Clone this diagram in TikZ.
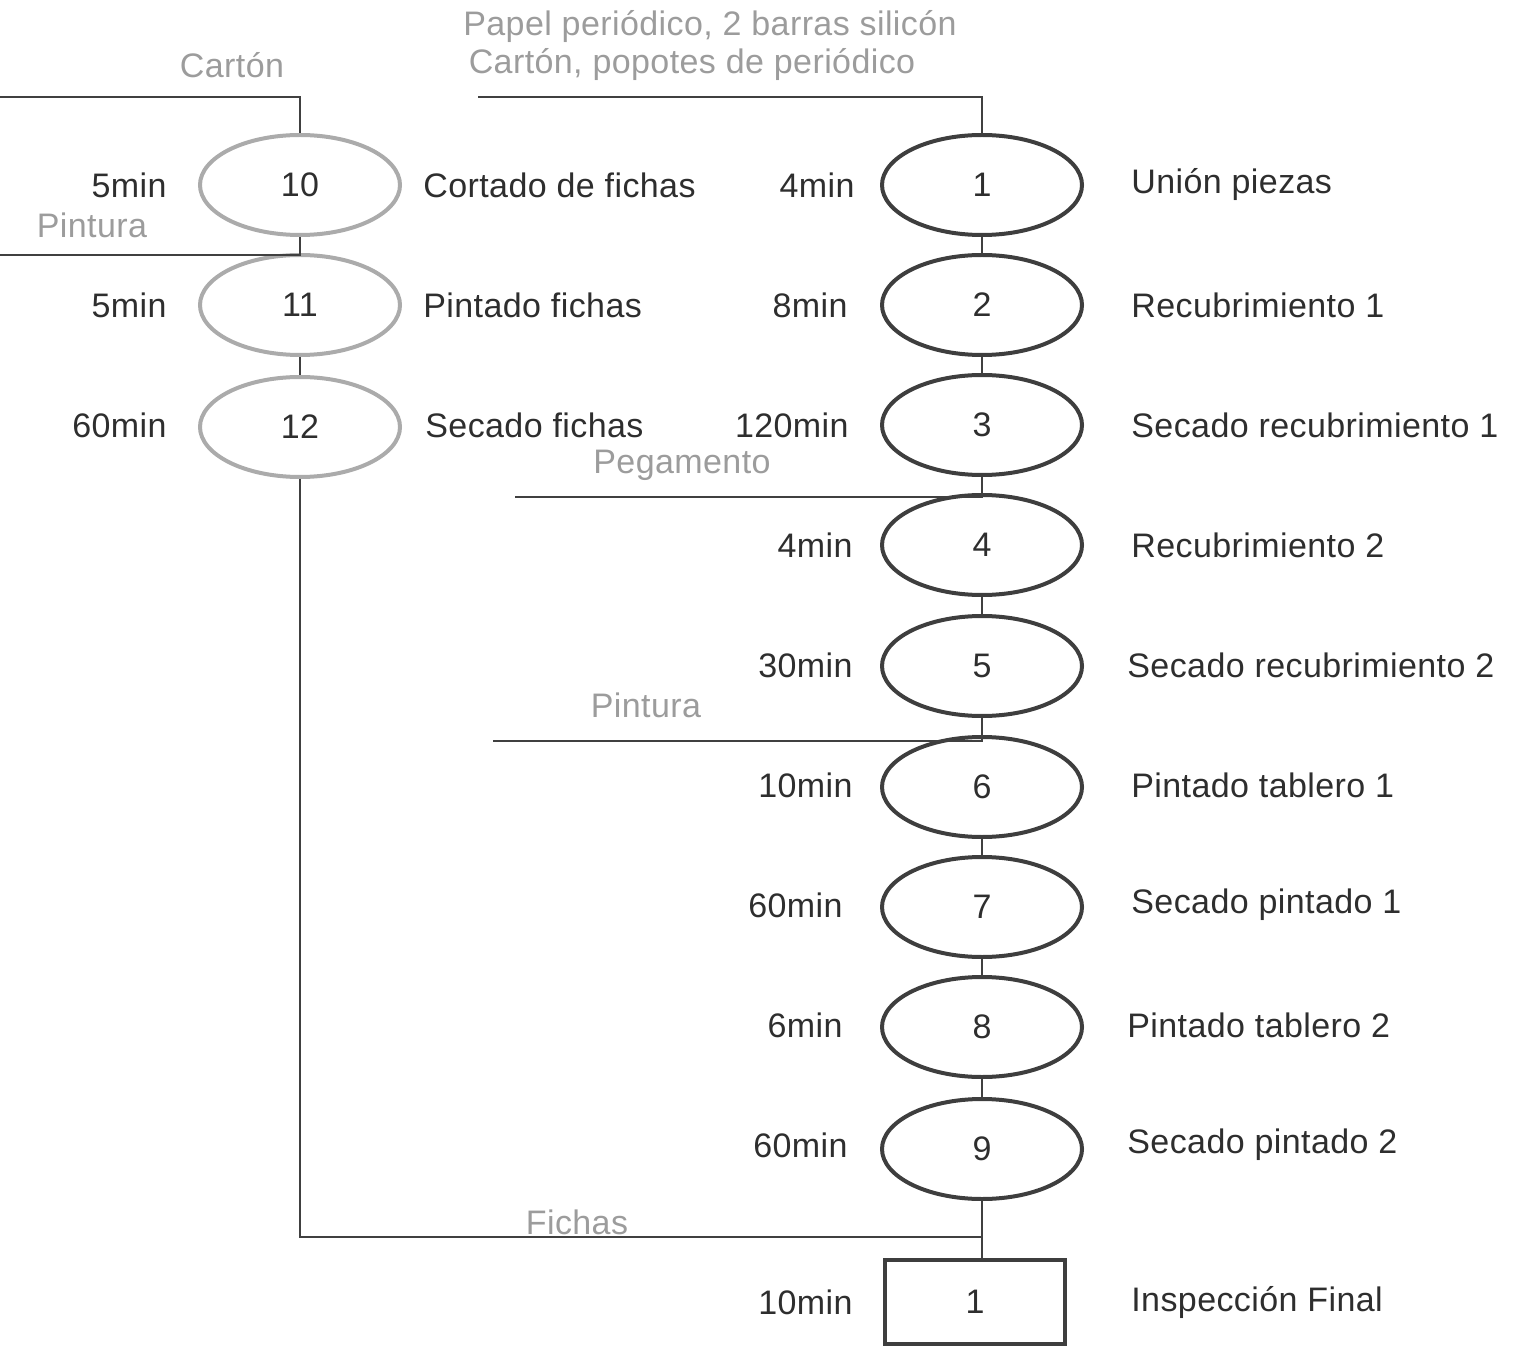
\documentclass[tikz,border=0pt]{standalone}
\usepackage{fontspec}
\setmainfont[LetterSpace=1.2]{Liberation Sans}
\usetikzlibrary{shapes.geometric}
\definecolor{txt}{HTML}{2E2E2E}
\definecolor{mat}{HTML}{9C9C9C}
\definecolor{lightell}{HTML}{ABABAB}
\definecolor{darkell}{HTML}{3E3E3E}
\definecolor{ln}{HTML}{404040}
\begin{document}
\begin{tikzpicture}[x=0.5pt,y=-0.5pt,
  every node/.style={font=\fontsize{17}{20}\selectfont, text=txt, inner sep=0pt},
  opA/.style={ellipse, draw=lightell, line width=2pt, minimum width=100pt, minimum height=50pt},
  opB/.style={ellipse, draw=darkell, line width=2pt, minimum width=100pt, minimum height=50pt},
  insp/.style={rectangle, draw=darkell, line width=2pt, minimum width=90pt, minimum height=42pt},
  tlabel/.style={anchor=east},
  dlabel/.style={anchor=west},
  mlabel/.style={text=mat},
  conn/.style={draw=ln, line width=1pt}]
\useasboundingbox (0,0) rectangle (1514,1347);

% left column
\node[opA] (e10) at (300,185) {10};
\node[opA] (e11) at (300,305) {11};
\node[opA] (e12) at (300,427) {12};
\node[tlabel] (t10) at (167,185) {5min};
\node[tlabel] (t11) at (167,305) {5min};
\node[tlabel] (t12) at (167,425) {60min};
\node[dlabel] (d10) at (423,185) {Cortado de fichas};
\node[dlabel] (d11) at (423,305) {Pintado fichas};
\node[dlabel] (d12) at (425,425) {Secado fichas};

% right column
\node[opB] (e1) at (982,185) {1};
\node[opB] (e2) at (982,305) {2};
\node[opB] (e3) at (982,425) {3};
\node[opB] (e4) at (982,545) {4};
\node[opB] (e5) at (982,666) {5};
\node[opB] (e6) at (982,787) {6};
\node[opB] (e7) at (982,907) {7};
\node[opB] (e8) at (982,1027) {8};
\node[opB] (e9) at (982,1149) {9};
\node[insp] (b1) at (975,1302) {1};

\node[tlabel] (t1) at (855,185) {4min};
\node[tlabel] (t2) at (848,305) {8min};
\node[tlabel] (t3) at (849,425) {120min};
\node[tlabel] (t4) at (853,545) {4min};
\node[tlabel] (t5) at (853,665) {30min};
\node[tlabel] (t6) at (853,785) {10min};
\node[tlabel] (t7) at (843,905) {60min};
\node[tlabel] (t8) at (843,1025) {6min};
\node[tlabel] (t9) at (848,1145) {60min};
\node[tlabel] (tb) at (853,1302) {10min};

\node[dlabel] (d1) at (1131,185) {Unión piezas};
\node[dlabel] (d2) at (1131,305) {Recubrimiento 1};
\node[dlabel] (d3) at (1131,425) {Secado recubrimiento 1};
\node[dlabel] (d4) at (1131,545) {Recubrimiento 2};
\node[dlabel] (d5) at (1127,665) {Secado recubrimiento 2};
\node[dlabel] (d6) at (1131,785) {Pintado tablero 1};
\node[dlabel] (d7) at (1131,905) {Secado pintado 1};
\node[dlabel] (d8) at (1127,1025) {Pintado tablero 2};
\node[dlabel] (d9) at (1127,1145) {Secado pintado 2};
\node[dlabel] (db) at (1131,1302) {Inspección Final};

% material labels
\node[mlabel] (m1) at (232,65) {Cartón};
\node[mlabel] (m2) at (92,225) {Pintura};
\node[mlabel] (m3) at (710,27) {Papel periódico, 2 barras silicón};
\node[mlabel] (m4) at (692,65) {Cartón, popotes de periódico};
\node[mlabel] (m5) at (682,465) {Pegamento};
\node[mlabel] (m6) at (646,705) {Pintura};
\node[mlabel] (m7) at (577,1222) {Fichas};

% connector start points
\coordinate (c1) at (0,97);
\coordinate (c2) at (0,255);
\coordinate (c3) at (478,97);
\coordinate (c4) at (515,497);
\coordinate (c5) at (493,741);
\coordinate (jn) at (982,1237);

% connectors
\draw[conn] (c1) -| (e10.north);
\draw[conn] (c2) -| (e11.north);
\draw[conn] (e10.south) -- (e11.north);
\draw[conn] (e11.south) -- (e12.north);
\draw[conn] (e12.south) |- (jn);
\draw[conn] (c3) -| (e1.north);
\draw[conn] (c4) -| (e4.north);
\draw[conn] (c5) -| (e6.north);
\draw[conn] (e1.south) -- (e2.north);
\draw[conn] (e2.south) -- (e3.north);
\draw[conn] (e3.south) -- (e4.north);
\draw[conn] (e4.south) -- (e5.north);
\draw[conn] (e5.south) -- (e6.north);
\draw[conn] (e6.south) -- (e7.north);
\draw[conn] (e7.south) -- (e8.north);
\draw[conn] (e8.south) -- (e9.north);
\draw[conn] (e9.south) -- (jn) -- (jn |- b1.north);
\end{tikzpicture}
\end{document}
